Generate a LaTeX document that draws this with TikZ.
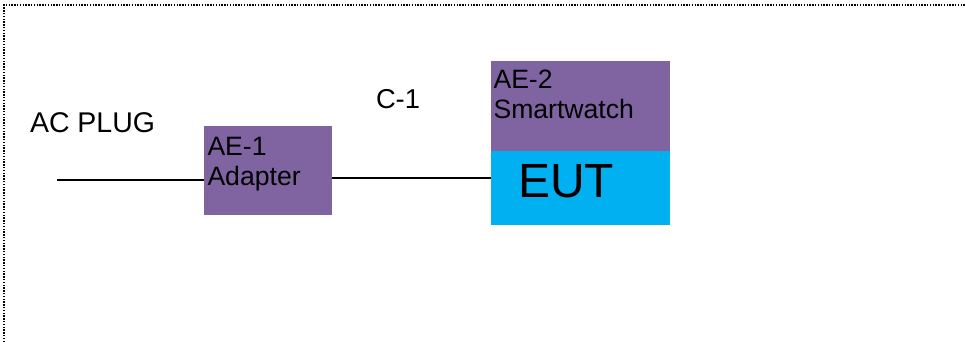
\documentclass[tikz,border=0pt]{standalone}
\usepackage{fontspec}
\setmainfont{Liberation Sans}
\definecolor{aepurple}{HTML}{8064A2}
\definecolor{eutcyan}{HTML}{00B0F0}
\begin{document}
\begin{tikzpicture}[x=1pt,y=-1pt,
  box/.style={draw=none,inner sep=0,outer sep=0,anchor=north west},
  lbl/.style={inner sep=0,outer sep=0,font=\fontsize{26.6}{30}\selectfont,align=left},
  biglbl/.style={inner sep=0,outer sep=0,font=\fontsize{28.5}{32}\selectfont},
  big/.style={inner sep=0,outer sep=0,font=\fontsize{48}{54}\selectfont},
  wire/.style={draw=black,line width=1.4pt},
  frame/.style={draw=black,line width=1.3pt,dash pattern=on 1.4pt off 1.4pt}]
\useasboundingbox (0,0) rectangle (965,342);
\coordinate (ftl) at (4,5);
\coordinate (ftr) at (965,5);
\coordinate (fbl) at (4,342);
\draw[frame] (fbl) -- (ftl) -- (ftr);
% boxes
\node[box,fill=aepurple,minimum width=128pt,minimum height=89pt] (ae1) at (204,126) {};
\node[box,fill=aepurple,minimum width=179pt,minimum height=90pt] (ae2) at (491,61) {};
\node[box,fill=eutcyan,minimum width=179pt,minimum height=74pt] (eut) at (491,151) {};
% texts
\node[biglbl,anchor=base west] (acplug) at (30,132) {AC PLUG};
\node[lbl,anchor=base west,font=\fontsize{27.3}{30}\selectfont] (c1) at (376,109) {C-1};
\node[lbl,anchor=north west] (ae1t) at (207.5,137) {AE-1\\Adapter};
\node[lbl,anchor=north west] (ae2t) at (493.5,70) {AE-2\\Smartwatch};
\node[big,anchor=base west] (eutt) at (518,197) {EUT};
% wires
\coordinate (plug) at (57,180);
\draw[wire] (plug) -- (plug -| ae1.west);
\coordinate (w2) at (332,178);
\draw[wire] (w2) -- (w2 -| eut.west);
\end{tikzpicture}
\end{document}
